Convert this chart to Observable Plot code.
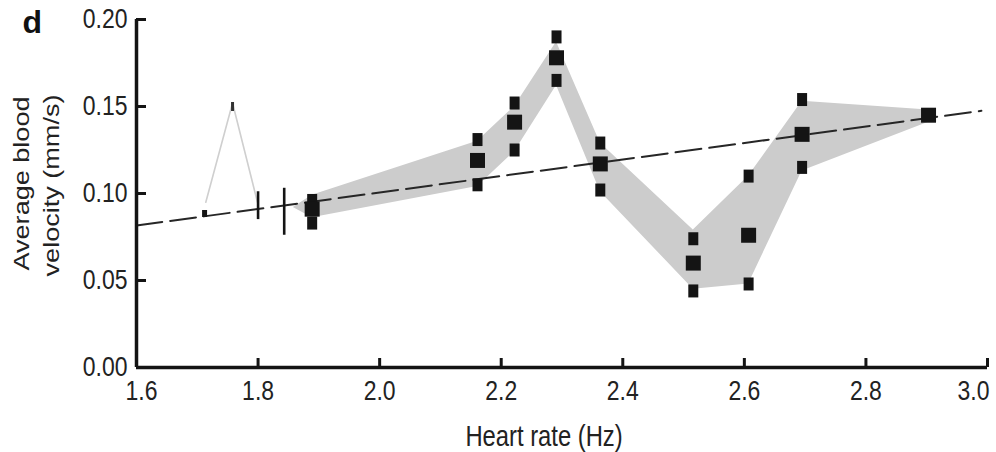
<!DOCTYPE html>
<html><head><meta charset="utf-8">
<script src="https://cdn.jsdelivr.net/npm/d3@7"></script>
<script src="https://cdn.jsdelivr.net/npm/@observablehq/plot@0.6"></script>
<style>body{margin:0;background:#fff;} #chart{width:996px;height:452px;}</style>
</head><body><div id="chart"></div>
<script>
// ---- data ----
const xTicks = [1.6, 1.8, 2.0, 2.2, 2.4, 2.6, 2.8, 3.0];
const yTicks = [0, 0.05, 0.10, 0.15, 0.20];
const xDomain = [1.6, 3.0];
const yDomain = [0, 0.2];

// heart-rate groups with max / mean / min of average blood velocity (mm/s)
const hr    = [1.889, 2.161, 2.222, 2.291, 2.363, 2.516, 2.607, 2.695, 2.903];
const vMax  = [0.096, 0.131, 0.152, 0.190, 0.129, 0.074, 0.110, 0.154, null];
const vMean = [0.091, 0.119, 0.141, 0.178, 0.117, 0.060, 0.076, 0.134, 0.145];
const vMin  = [0.083, 0.105, 0.125, 0.165, 0.102, 0.044, 0.048, 0.115, null];

// grey envelope
const bandX  = [1.858, 1.889, 2.161, 2.222, 2.291, 2.363, 2.516, 2.607, 2.695, 2.903];
const bandHi = [0.092, 0.099, 0.130, 0.150, 0.187, 0.129, 0.079, 0.110, 0.153, 0.148];
const bandLo = [0.092, 0.086, 0.104, 0.124, 0.162, 0.101, 0.045, 0.048, 0.113, 0.141];

// linear fit (dashed)
const fitX = [1.6, 2.99];
const fitV = [0.0816, 0.1475];

// early low-rate spike (thin grey line) and its markers
const spikeX = [1.714, 1.758, 1.799];
const spikeV = [0.095, 0.152, 0.095];
const spikeMarkX = [1.712, 1.758];
const spikeMarkV = [0.0885, 0.150];

// vertical error bars
const barX  = [1.800, 1.843];
const barLo = [0.085, 0.076];
const barHi = [0.101, 0.103];

// texts
const panelLabel = "d";
const xTitle = "Heart rate (Hz)";
const yTitleLines = ["Average blood", "velocity (mm/s)"];

// ---- tables built from the arrays ----
const extremes = hr.flatMap((x, i) => [{x, v: vMax[i]}, {x, v: vMin[i]}]).filter(d => d.v != null);
const means = hr.map((x, i) => ({x, v: vMean[i]}));
const band = bandX.map((x, i) => ({x, lo: bandLo[i], hi: bandHi[i]}));
const fit = fitX.map((x, i) => ({x, v: fitV[i]}));
const spike = spikeX.map((x, i) => ({x, v: spikeV[i]}));
const spikeMarks = spikeMarkX.map((x, i) => ({x, v: spikeMarkV[i]}));
const bars = barX.map((x, i) => ({x, lo: barLo[i], hi: barHi[i]}));

const rectSymbol = (w, h) => ({
  draw(ctx) {
    ctx.moveTo(-w / 2, -h / 2); ctx.lineTo(w / 2, -h / 2);
    ctx.lineTo(w / 2, h / 2); ctx.lineTo(-w / 2, h / 2); ctx.closePath();
  }
});

const ink = "#141414";
const txt = "#222";
const fmtX = d3.format(".1f"), fmtY = d3.format(".2f");
const blank = () => "";

const chart = Plot.plot({
  width: 996, height: 452,
  marginLeft: 136, marginRight: 9, marginTop: 19, marginBottom: 85,
  style: {fontFamily: "'Liberation Sans', Arial, sans-serif", fontSize: "28px", color: txt, background: "#fff", overflow: "visible"},
  x: {domain: xDomain},
  y: {domain: yDomain},
  marks: [
    Plot.areaY(band, {x: "x", y1: "lo", y2: "hi", fill: "#cccccc", curve: "linear"}),
    Plot.line(spike, {x: "x", y: "v", stroke: "#cfcfcf", strokeWidth: 1.6}),
    Plot.line(fit, {x: "x", y: "v", stroke: "#262626", strokeWidth: 2, strokeDasharray: "26,8"}),
    Plot.ruleX(bars, {x: "x", y1: "lo", y2: "hi", stroke: ink, strokeWidth: 2.6}),
    Plot.dot(spikeMarks.slice(0, 1), {x: "x", y: "v", symbol: rectSymbol(5, 7), fill: ink, stroke: null}),
    Plot.dot(spikeMarks.slice(1), {x: "x", y: "v", symbol: rectSymbol(3, 9), fill: "#333", stroke: null}),
    Plot.dot(extremes, {x: "x", y: "v", symbol: rectSymbol(10, 13), fill: ink, stroke: null}),
    Plot.dot(means, {x: "x", y: "v", symbol: rectSymbol(15, 15), fill: ink, stroke: null}),
    // axis lines
    Plot.ruleX([xDomain[0]], {stroke: ink, strokeWidth: 3.5}),
    Plot.ruleY([yDomain[0]], {stroke: ink, strokeWidth: 3.5}),
    // inward ticks (outward ticks shifted into the frame)
    Plot.axisY(yTicks, {tickFormat: blank, tickSize: 10, dx: 10, stroke: ink, strokeWidth: 3, label: null}),
    Plot.axisX(xTicks, {tickFormat: blank, tickSize: 9, dy: -9, stroke: ink, strokeWidth: 3, label: null}),
    // tick labels
    Plot.axisX(xTicks.slice(1, -1), {tickFormat: fmtX, tickSize: 0, tickPadding: 13, label: null, fill: txt}),
    Plot.axisX(xTicks.slice(0, 1), {tickFormat: fmtX, tickSize: 0, tickPadding: 13, dx: 5, label: null, fill: txt}),
    Plot.axisX(xTicks.slice(-1), {tickFormat: fmtX, tickSize: 0, tickPadding: 13, dx: 2, textAnchor: "end", label: null, fill: txt}),
    Plot.axisY(yTicks, {tickFormat: fmtY, tickSize: 0, tickPadding: 9, label: null, fill: txt}),
    // titles
    Plot.text([xTitle], {text: d => d, frameAnchor: "bottom", dx: -18, dy: 69, fontSize: 29, lineAnchor: "middle", fill: txt}),
    Plot.text(yTitleLines.slice(0, 1), {text: d => d, frameAnchor: "left", rotate: -90, dx: -115, dy: -10,
      fontSize: 22, textAnchor: "middle", lineAnchor: "middle", fill: txt}),
    Plot.text(yTitleLines.slice(1), {text: d => d, frameAnchor: "left", rotate: -90, dx: -85, dy: -8,
      fontSize: 22, textAnchor: "middle", lineAnchor: "middle", fill: txt}),
    Plot.text([panelLabel], {text: d => d, frameAnchor: "top-left", dx: -114, dy: 3, fontSize: 32, fontWeight: "bold", textAnchor: "start", lineAnchor: "middle", fill: "#111"})
  ]
});
document.getElementById("chart").appendChild(chart);

// The reference uses a condensed face: squeeze horizontal texts, stretch the rotated title.
function rescale(el, k) {
  const w = el.getComputedTextLength();
  if (w > 0) { el.setAttribute("textLength", (w * k).toFixed(2)); el.setAttribute("lengthAdjust", "spacingAndGlyphs"); }
}
chart.querySelectorAll("text").forEach(t => {
  const s = t.textContent;
  if (!s) return;
  if (yTitleLines.includes(s)) rescale(t, 1.23);
  else if (s === panelLabel) {}
  else rescale(t, 0.82);
});
</script></body></html>
